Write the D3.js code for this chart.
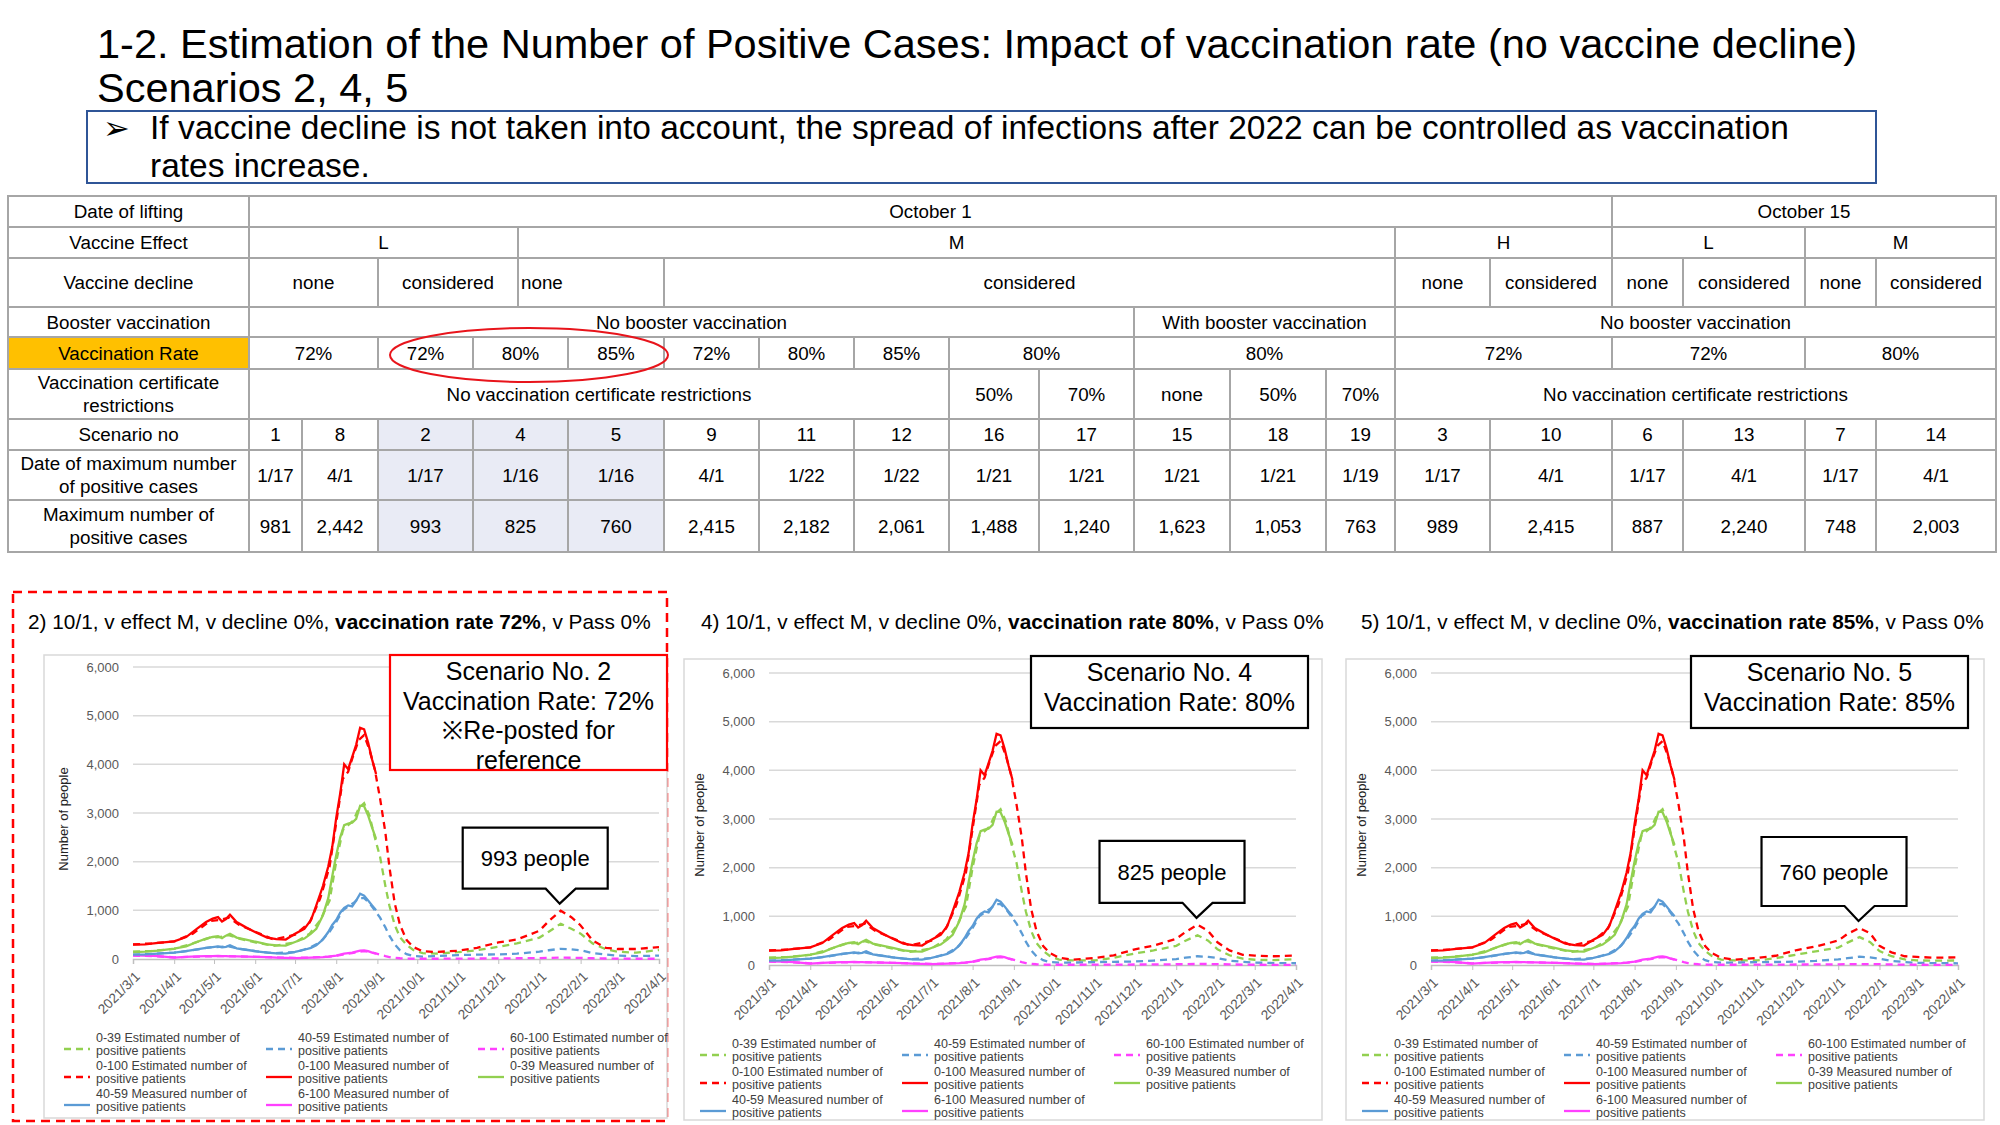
<!DOCTYPE html>
<html>
<head>
<meta charset="utf-8">
<script src="https://cdn.jsdelivr.net/npm/d3@7"></script>
<style>
  body { margin: 0; background: #fff; }
  svg { display: block; font-family: "Liberation Sans", Arial, sans-serif; }
</style>
</head>
<body>
<div id="slide"></div>
<script>
// ---------- table data ----------
const rowHeaders = [["Date of lifting"], ["Vaccine Effect"], ["Vaccine decline"], ["Booster vaccination"],
  ["Vaccination Rate"], ["Vaccination certificate", "restrictions"], ["Scenario no"],
  ["Date of maximum number", "of positive cases"], ["Maximum number of", "positive cases"]];
// each entry: [label, number of grid columns spanned]
const liftingRow = [["October 1", 16], ["October 15", 4]];
const effectRow = [["L", 4], ["M", 10], ["H", 2], ["L", 2], ["M", 2]];
const declineRow = [["none", 2], ["considered", 2], ["none", 2], ["considered", 8], ["none", 1], ["considered", 1],
  ["none", 1], ["considered", 1], ["none", 1], ["considered", 1]];
const boosterRow = [["No booster vaccination", 11], ["With booster vaccination", 3], ["No booster vaccination", 6]];
const rateRow = [["72%", 2], ["72%", 1], ["80%", 2], ["85%", 1], ["72%", 1], ["80%", 1], ["85%", 1], ["80%", 2],
  ["80%", 3], ["72%", 2], ["72%", 2], ["80%", 2]];
const certRow = [["No vaccination certificate restrictions", 9], ["50%", 1], ["70%", 1], ["none", 1], ["50%", 1],
  ["70%", 1], ["No vaccination certificate restrictions", 6]];
const scenarioNos = ["1", "8", "2", "4", "5", "9", "11", "12", "16", "17", "15", "18", "19", "3", "10", "6", "13", "7", "14"];
const scenarioSpans = [1, 1, 1, 2, 1, 1, 1, 1, 1, 1, 1, 1, 1, 1, 1, 1, 1, 1, 1];
const peakDates = ["1/17", "4/1", "1/17", "1/16", "1/16", "4/1", "1/22", "1/22", "1/21", "1/21", "1/21", "1/21", "1/19", "1/17", "4/1", "1/17", "4/1", "1/17", "4/1"];
const peakCounts = ["981", "2,442", "993", "825", "760", "2,415", "2,182", "2,061", "1,488", "1,240", "1,623", "1,053", "763", "989", "2,415", "887", "2,240", "748", "2,003"];
const highlighted = ["2", "4", "5"];

// ---------- chart data ----------
const measDates = ["2021-03-01","2021-03-10","2021-03-20","2021-04-01","2021-04-10","2021-04-18","2021-04-25","2021-04-30",
  "2021-05-04","2021-05-07","2021-05-10","2021-05-13","2021-05-18","2021-05-25","2021-06-02","2021-06-10","2021-06-17",
  "2021-06-24","2021-07-01","2021-07-08","2021-07-13","2021-07-17","2021-07-22","2021-07-26","2021-07-29","2021-08-01",
  "2021-08-04","2021-08-07","2021-08-10","2021-08-13","2021-08-16","2021-08-19","2021-08-22","2021-08-25","2021-08-28","2021-08-31"];
const measTotal = [294, 300, 330, 363, 450, 620, 760, 830, 860, 770, 820, 910, 760, 650, 540, 440, 410, 400, 520, 620, 800,
  1100, 1500, 1900, 2300, 2900, 3400, 4000, 3900, 4150, 4400, 4750, 4720, 4450, 4100, 3800];
const meas0to39 = [144, 150, 170, 212, 260, 350, 420, 452, 470, 430, 480, 520, 440, 400, 350, 300, 280, 275, 349, 420, 520,
  622, 900, 1250, 1700, 2130, 2500, 2750, 2780, 2800, 2880, 3150, 3140, 2950, 2700, 2470];
const meas40to59 = [88, 95, 110, 130, 160, 200, 230, 246, 260, 240, 250, 281, 220, 190, 157, 130, 115, 110, 144, 190, 230,
  281, 400, 554, 700, 800, 950, 1050, 1102, 1080, 1200, 1341, 1300, 1205, 1100, 1000];
const meas60plus = [75, 70, 60, 30, 45, 55, 60, 60, 65, 60, 60, 55, 55, 50, 45, 40, 30, 25, 20, 25, 30, 35, 40, 50, 60, 70,
  90, 110, 120, 130, 150, 170, 178, 160, 130, 110];

// estimated curve before the lifting date (same for every scenario)
const estBaseDates = ["2021-03-01","2021-03-15","2021-04-01","2021-04-15","2021-04-28","2021-05-05","2021-05-12","2021-05-20",
  "2021-06-01","2021-06-15","2021-07-01","2021-07-12","2021-07-20","2021-07-27","2021-08-01","2021-08-06","2021-08-10",
  "2021-08-14","2021-08-18","2021-08-22","2021-08-26","2021-08-30","2021-09-03","2021-09-07","2021-09-10","2021-09-14",
  "2021-09-18","2021-09-23","2021-09-28"];
const estBaseTotal = [300, 320, 360, 520, 780, 800, 850, 700, 560, 400, 500, 750, 1250, 1900, 2800, 3700, 3850, 4200, 4500,
  4600, 4300, 3900, 3300, 2600, 1900, 1150, 700, 390, 246];
const estBase0to39 = [150, 165, 210, 320, 440, 450, 490, 420, 340, 270, 340, 520, 800, 1200, 2000, 2650, 2750, 2850, 3100,
  3200, 2950, 2500, 2100, 1500, 1100, 700, 450, 290, 185];
const estBase40to59 = [90, 105, 130, 180, 240, 250, 260, 210, 160, 120, 140, 230, 350, 560, 760, 1000, 1080, 1150, 1250,
  1250, 1150, 1000, 850, 650, 480, 300, 180, 100, 60];
const estBase60plus = [70, 60, 35, 45, 55, 58, 60, 52, 45, 35, 22, 30, 38, 50, 65, 90, 110, 125, 150, 160, 150, 120, 90,
  60, 40, 25, 15, 8, 5];

// forecast after lifting, per scenario
const forecastDates = ["2021-10-05","2021-10-15","2021-11-01","2021-11-15","2021-12-01","2021-12-15","2022-01-01","2022-01-08",
  "2022-01-17","2022-01-25","2022-02-01","2022-02-10","2022-02-20","2022-03-01","2022-03-15","2022-04-01"];
const s2Total = [160, 144, 170, 230, 340, 400, 580, 780, 993, 860, 690, 380, 230, 205, 205, 246];
const s2Age0to39 = [120, 110, 140, 180, 250, 320, 440, 560, 725, 620, 520, 320, 200, 150, 130, 185];
const s2Age40to59 = [50, 60, 80, 90, 95, 110, 150, 180, 210, 200, 180, 120, 90, 70, 60, 70];
const s2Age60plus = [5, 5, 8, 10, 12, 15, 18, 22, 28, 25, 22, 15, 10, 6, 5, 5];
const s4Total = [150, 110, 143, 200, 322, 400, 538, 680, 825, 700, 466, 300, 210, 194, 180, 194];
const s4Age0to39 = [110, 95, 93, 150, 237, 300, 394, 500, 610, 500, 322, 200, 130, 108, 100, 122];
const s4Age40to59 = [50, 50, 60, 65, 72, 90, 122, 150, 180, 165, 143, 90, 65, 50, 40, 36];
const s4Age60plus = [5, 5, 7, 9, 10, 12, 15, 18, 22, 20, 18, 12, 8, 5, 4, 4];
const s5Total = [150, 110, 143, 190, 308, 380, 502, 640, 760, 650, 394, 260, 180, 165, 150, 158];
const s5Age0to39 = [110, 95, 93, 140, 215, 280, 358, 460, 573, 470, 287, 180, 115, 93, 90, 93];
const s5Age40to59 = [50, 50, 60, 62, 70, 85, 115, 140, 170, 155, 130, 85, 60, 45, 38, 35];
const s5Age60plus = [5, 5, 7, 8, 10, 12, 14, 17, 20, 18, 16, 11, 7, 5, 4, 4];

const yTicks = [0, 1000, 2000, 3000, 4000, 5000, 6000];
const legendLabels = [
  ["0-39 Estimated number of", "positive patients"], ["40-59 Estimated number of", "positive patients"],
  ["60-100 Estimated number of", "positive patients"], ["0-100 Estimated number of", "positive patients"],
  ["0-100 Measured number of", "positive patients"], ["0-39 Measured number of", "positive patients"],
  ["40-59 Measured number of", "positive patients"], ["6-100 Measured number of", "positive patients"]];

// ---------- drawing ----------
const W = 2000, H = 1125;
const svg = d3.select("#slide").append("svg").attr("width", W).attr("height", H);
const parse = d3.timeParse("%Y-%m-%d");
const C = { green: "#92d050", blue: "#5b9bd5", pink: "#ff40ff", red: "#ff0000" };

// title
svg.append("text").attr("x", 97).attr("y", 58).attr("font-size", 41.5)
  .text("1-2. Estimation of the Number of Positive Cases: Impact of vaccination rate (no vaccine decline)");
svg.append("text").attr("x", 97).attr("y", 102).attr("font-size", 41.5).text("Scenarios 2, 4, 5");

svg.append("rect").attr("x", 87).attr("y", 111).attr("width", 1789).attr("height", 72)
  .attr("fill", "none").attr("stroke", "#2f5597").attr("stroke-width", 2);
svg.append("text").attr("x", 103).attr("y", 139).attr("font-size", 32)
  .attr("font-family", "DejaVu Sans").text("\u27A2");
svg.append("text").attr("x", 150).attr("y", 139).attr("font-size", 33.5)
  .text("If vaccine decline is not taken into account, the spread of infections after 2022 can be controlled as vaccination");
svg.append("text").attr("x", 150).attr("y", 177).attr("font-size", 33.5).text("rates increase.");

// table
const grid = [8, 249, 302, 378, 473, 518, 568, 664, 759, 854, 949, 1039, 1134, 1230, 1326, 1395, 1490, 1612, 1683, 1805, 1876, 1996];
const rowY = [196, 227, 258, 307, 337, 369, 419, 450, 500, 552];
const zip = (labels, spans) => labels.map((t, i) => [t, spans[i]]);
const bodyRows = [liftingRow, effectRow, declineRow, boosterRow, rateRow, certRow,
  zip(scenarioNos, scenarioSpans), zip(peakDates, scenarioSpans), zip(peakCounts, scenarioSpans)];

const table = svg.append("g").attr("font-size", 18.8);
bodyRows.forEach((row, r) => {
  const y0 = rowY[r], y1 = rowY[r + 1];
  const cells = [[rowHeaders[r], 1, 0]];
  let c = 1;
  row.forEach(([t, span]) => { cells.push([[t], span, c]); c += span; });
  cells.forEach(([lines, span, ci], k) => {
    const x0 = grid[ci], x1 = grid[ci + span];
    let fill = "#fff";
    if (k === 0 && r === 4) fill = "#ffc000";
    if (r >= 6 && k > 0 && highlighted.includes(scenarioNos[k - 1])) fill = "#e9ebf5";
    table.append("rect").attr("x", x0).attr("y", y0).attr("width", x1 - x0).attr("height", y1 - y0)
      .attr("fill", fill).attr("stroke", "#a6a6a6").attr("stroke-width", 2);
    const leftAlign = r === 2 && ci === 5;
    const cy = (y0 + y1) / 2;
    lines.forEach((ln, li) => {
      table.append("text")
        .attr("x", leftAlign ? x0 + 3 : (x0 + x1) / 2)
        .attr("y", cy + (li - (lines.length - 1) / 2) * 23)
        .attr("dy", "0.35em")
        .attr("text-anchor", leftAlign ? "start" : "middle")
        .text(ln);
    });
  });
});
svg.append("ellipse").attr("cx", 529).attr("cy", 355).attr("rx", 139).attr("ry", 27)
  .attr("fill", "none").attr("stroke", "#e8141b").attr("stroke-width", 2);

// panels
const panels = [
  { x0: 133, x1: 659, yz: 959, area: [44, 655, 667, 1118], titleX: 28, titleY: 629,
    head: ["2) 10/1, v effect M, v decline 0%, ", "vaccination rate 72%", ", v Pass 0%"],
    box: [390, 655, 667, 770], boxLines: ["Scenario No. 2", "Vaccination Rate: 72%", "\u203BRe-posted for", "reference"],
    boxColor: "#ff0000", callout: "993 people", calloutTop: -76,
    est: [s2Total, s2Age0to39, s2Age40to59, s2Age60plus] },
  { x0: 769, x1: 1296, yz: 965, area: [684, 659, 1322, 1120], titleX: 701, titleY: 629,
    head: ["4) 10/1, v effect M, v decline 0%, ", "vaccination rate 80%", ", v Pass 0%"],
    box: [1031, 656, 1308, 728], boxLines: ["Scenario No. 4", "Vaccination Rate: 80%"],
    boxColor: "#000", callout: "825 people", calloutTop: -77,
    est: [s4Total, s4Age0to39, s4Age40to59, s4Age60plus] },
  { x0: 1431, x1: 1958, yz: 965, area: [1346, 659, 1984, 1120], titleX: 1361, titleY: 629,
    head: ["5) 10/1, v effect M, v decline 0%, ", "vaccination rate 85%", ", v Pass 0%"],
    box: [1691, 656, 1968, 728], boxLines: ["Scenario No. 5", "Vaccination Rate: 85%"],
    boxColor: "#000", callout: "760 people", calloutTop: -84,
    est: [s5Total, s5Age0to39, s5Age40to59, s5Age60plus] }
];

// outer dashed frame of the re-posted panel
svg.append("rect").attr("x", 13).attr("y", 592).attr("width", 654).attr("height", 529)
  .attr("fill", "none").attr("stroke", "#ff0000").attr("stroke-width", 2.5).attr("stroke-dasharray", "9,6");

const toPoints = (dates, vals) => dates.map((d, i) => ({ date: parse(d), v: vals[i] }));

panels.forEach(p => {
  const g = svg.append("g");
  const [ax0, ay0, ax1, ay1] = p.area;
  g.append("rect").attr("x", ax0).attr("y", ay0).attr("width", ax1 - ax0).attr("height", ay1 - ay0)
    .attr("fill", "#fff").attr("stroke", "#d9d9d9").attr("stroke-width", 1.5);

  const t = g.append("text").attr("x", p.titleX).attr("y", p.titleY).attr("font-size", 20.8);
  t.append("tspan").text(p.head[0]);
  t.append("tspan").attr("font-weight", "bold").text(p.head[1]);
  t.append("tspan").text(p.head[2]);

  const x = d3.scaleTime().domain([parse("2021-03-01"), parse("2022-04-01")]).range([p.x0, p.x1]);
  const y = d3.scaleLinear().domain([0, 6000]).range([p.yz, p.yz - 292]);

  g.selectAll("line.grid").data(yTicks.slice(1)).join("line")
    .attr("x1", p.x0).attr("x2", p.x1).attr("y1", d => y(d)).attr("y2", d => y(d))
    .attr("stroke", "#d9d9d9").attr("stroke-width", 1.5);

  const ya = g.append("g").attr("transform", `translate(${p.x0},0)`)
    .call(d3.axisLeft(y).tickValues(yTicks).tickSize(0).tickPadding(14).tickFormat(d3.format(",")));
  ya.select(".domain").remove();
  ya.selectAll("text").attr("font-size", 13).attr("fill", "#595959").attr("font-family", "Liberation Sans, Arial");

  const xa = g.append("g").attr("transform", `translate(0,${p.yz})`)
    .call(d3.axisBottom(x).ticks(d3.timeMonth.every(1)).tickSize(5).tickFormat(d3.timeFormat("%Y/%-m/%-d")));
  xa.select(".domain").attr("stroke", "#bfbfbf").attr("stroke-width", 1.5);
  xa.selectAll(".tick line").attr("stroke", "#bfbfbf");
  xa.selectAll("text").attr("font-size", 13.6).attr("fill", "#595959").attr("font-family", "Liberation Sans, Arial")
    .attr("text-anchor", "end").attr("x", 0).attr("y", 0).attr("dy", "0.35em")
    .attr("transform", "translate(4,15) rotate(-45)");

  g.append("text").attr("transform", `translate(${p.x0 - 65},${p.yz - 140}) rotate(-90)`)
    .attr("text-anchor", "middle").attr("font-size", 13).attr("fill", "#222").text("Number of people");

  const line = d3.line().x(d => x(d.date)).y(d => y(d.v));
  const estDates = estBaseDates.concat(forecastDates);
  const estimated = [
    [estBase0to39.concat(p.est[1]), C.green], [estBase40to59.concat(p.est[2]), C.blue],
    [estBase60plus.concat(p.est[3]), C.pink], [estBaseTotal.concat(p.est[0]), C.red]];
  estimated.forEach(([vals, col]) => {
    g.append("path").datum(toPoints(estDates, vals)).attr("d", line).attr("fill", "none")
      .attr("stroke", col).attr("stroke-width", 2.3).attr("stroke-dasharray", "7,5");
  });
  const measured = [[meas60plus, C.pink], [meas40to59, C.blue], [meas0to39, C.green], [measTotal, C.red]];
  measured.forEach(([vals, col]) => {
    g.append("path").datum(toPoints(measDates, vals)).attr("d", line).attr("fill", "none")
      .attr("stroke", col).attr("stroke-width", 2.3);
  });

  // legend
  const legStyle = [[C.green, true], [C.blue, true], [C.pink, true], [C.red, true],
    [C.red, false], [C.green, false], [C.blue, false], [C.pink, false]];
  const colX = [-37, 165, 377];
  legendLabels.forEach((lab, i) => {
    const cx = p.x0 + colX[i % 3], ry = p.yz + 83 + Math.floor(i / 3) * 28;
    g.append("line").attr("x1", cx - 32).attr("x2", cx - 6).attr("y1", ry + 7).attr("y2", ry + 7)
      .attr("stroke", legStyle[i][0]).attr("stroke-width", 2.3)
      .attr("stroke-dasharray", legStyle[i][1] ? "7,5" : null);
    lab.forEach((s, k) => g.append("text").attr("x", cx).attr("y", ry + k * 12.5).attr("font-size", 12.5)
      .attr("fill", "#404040").text(s));
  });

  // scenario box
  const [bx0, by0, bx1, by1] = p.box;
  g.append("rect").attr("x", bx0).attr("y", by0).attr("width", bx1 - bx0).attr("height", by1 - by0)
    .attr("fill", "#fff").attr("stroke", p.boxColor).attr("stroke-width", 2.2);
  p.boxLines.forEach((s, k) => g.append("text").attr("x", (bx0 + bx1) / 2).attr("y", by0 + 25 + k * 29.5)
    .attr("text-anchor", "middle").attr("font-size", 25).text(s));

  // callout pointing at the forecast peak
  const peakIdx = d3.maxIndex(p.est[0]);
  const tx = x(parse(forecastDates[peakIdx])) - 1, ty = y(p.est[0][peakIdx]) - 7;
  const cx0 = tx - 97, cx1 = tx + 48, cy0 = ty + p.calloutTop, cy1 = ty - 15;
  g.append("path")
    .attr("d", `M${cx0},${cy0}H${cx1}V${cy1}H${tx + 16}L${tx},${ty}L${tx - 14},${cy1}H${cx0}Z`)
    .attr("fill", "#fff").attr("stroke", "#000").attr("stroke-width", 2.2);
  g.append("text").attr("x", (cx0 + cx1) / 2).attr("y", (cy0 + cy1) / 2 + 8).attr("text-anchor", "middle")
    .attr("font-size", 22).text(p.callout);
});
</script>
</body>
</html>
